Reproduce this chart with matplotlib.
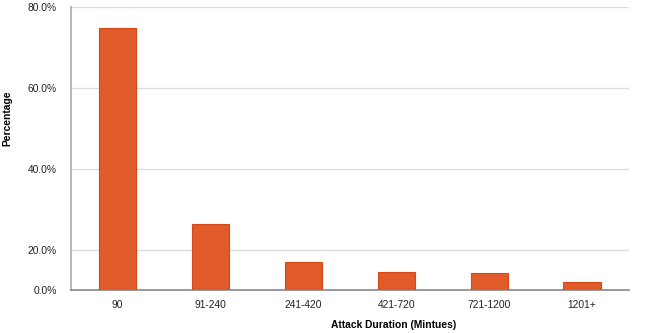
import numpy as np
import matplotlib
matplotlib.use("Agg")
import matplotlib.pyplot as plt

# Data
categories = ["90", "91-240", "241-420", "421-720", "721-1200", "1201+"]
percentages = [74.7, 26.5, 14.1, 9.2, 8.5, 4.2]
y_ticks = [0, 20, 40, 60, 80]
y_tick_labels = ["0.0%", "20.0%", "40.0%", "60.0%", "80.0%"]

plt.rcParams['font.family'] = ['Liberation Sans', 'DejaVu Sans']


# the source chart squeezes the 0-20% band to half height
def fwd(v):
    v = np.asarray(v, dtype=float)
    return np.where(v <= 20, v / 2.0, v - 10.0)


def inv(u):
    u = np.asarray(u, dtype=float)
    return np.where(u <= 10, u * 2.0, u + 10.0)


fig = plt.figure(figsize=(6.5, 3.33), dpi=100)
ax = fig.add_axes([0.109, 0.128, 0.858, 0.851])

x = np.arange(len(categories))
ax.bar(x, percentages, width=0.4, color='#E05A2A', edgecolor='#D44A17', linewidth=0.8, zorder=3)

ax.set_yscale('function', functions=(fwd, inv))
ax.set_ylim(0, 80)
ax.set_xlim(-0.5, len(categories) - 0.5)
ax.set_yticks(y_ticks)
ax.set_yticklabels(y_tick_labels)
ax.set_xticks(x)
ax.set_xticklabels(categories)
ax.yaxis.set_minor_locator(matplotlib.ticker.NullLocator())

ax.tick_params(axis='both', length=0, labelsize=7.4, colors='#222222')
ax.tick_params(axis='y', pad=10)
ax.tick_params(axis='x', pad=7)

ax.grid(axis='y', color='#dddddd', linewidth=1, zorder=0)
for side in ['top', 'right']:
    ax.spines[side].set_visible(False)
ax.spines['left'].set_color('#aaaaaa')
ax.spines['bottom'].set_color('#888888')
ax.spines['left'].set_linewidth(1.2)
ax.spines['bottom'].set_linewidth(1.2)

fig.text(0.605, 0.024, "Attack Duration (Mintues)", ha='center', va='center',
         fontsize=7.4, fontweight='bold')
fig.text(0.012, 0.645, "Percentage", ha='center', va='center', rotation=90,
         fontsize=7.4, fontweight='bold')

fig.savefig("out.png", dpi=100)
